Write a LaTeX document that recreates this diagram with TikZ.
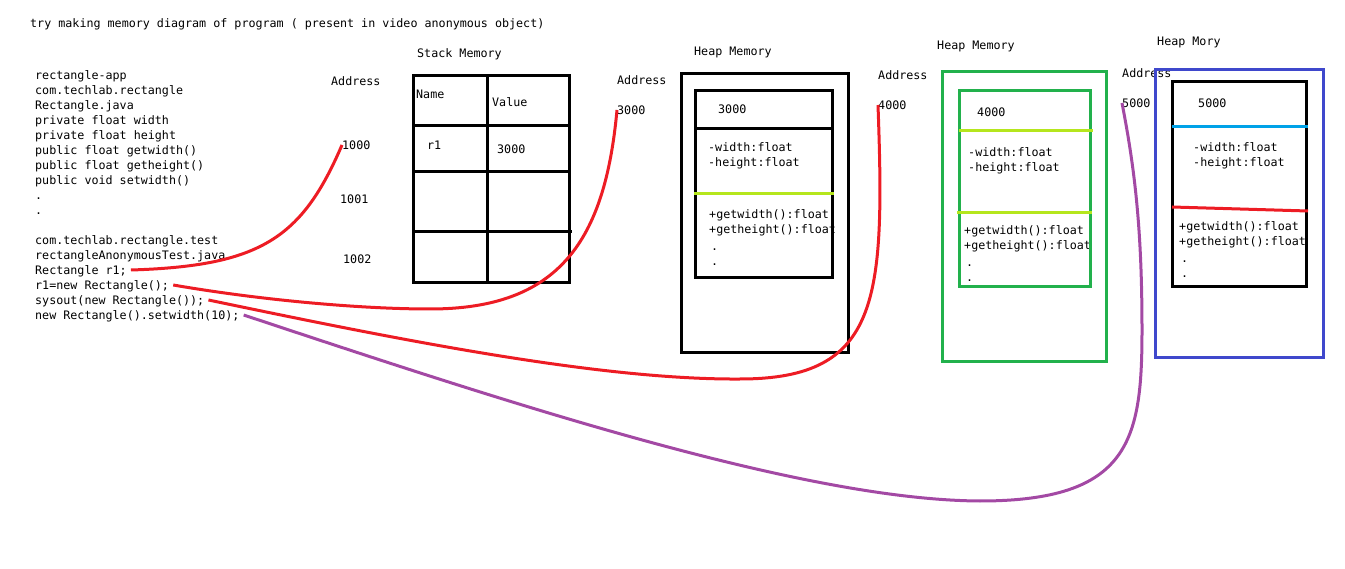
\documentclass[tikz,border=0pt]{standalone}
\usepackage{fontspec}
\setmonofont{DejaVu Sans Mono}
\usepackage{tikz}
\definecolor{pred}{HTML}{ED1C24}
\definecolor{ppurple}{HTML}{A349A4}
\definecolor{pgreen}{HTML}{22B14C}
\definecolor{pblue}{HTML}{3F48CC}
\definecolor{plime}{HTML}{B5E61D}
\definecolor{pcyan}{HTML}{00A2E8}

\begin{document}
\begin{tikzpicture}[x=1pt,y=-1pt,
    every node/.style={anchor=west,inner sep=0,text height=12pt,text depth=2pt,font=\ttfamily\fontsize{11.7}{14}\selectfont},
    box/.style={line width=3pt},
    wire/.style={line width=3pt,pred}]
  \useasboundingbox (0,0) rectangle (1345,569);
  \node (title) at (30,23) {try making memory diagram of program ( present in video anonymous object)};
  \foreach \t [count=\i] in {rectangle-app,com.techlab.rectangle,Rectangle.java,private float width,private float height,public float getwidth(),public float getheight(),public void setwidth(),.,.}
    \node (p\i) at (35,60+15*\i) {\t};
  \foreach \t [count=\i] in {com.techlab.rectangle.test,rectangleAnonymousTest.java,Rectangle r1;,r1=new Rectangle();,sysout(new Rectangle());,new Rectangle().setwidth(10);}
    \node (t\i) at (35,225+15*\i) {\t};

  \node (stk) at (417,53) {Stack Memory};
  \node (adr0) at (331,81) {Address};
  \node (a1000) at (342,145) {1000};
  \node (a1001) at (340,199) {1001};
  \node (a1002) at (343,259) {1002};
  \draw[box] (413,76) rectangle (569,283);
  \draw[box] (487,76) -- (487,283) (413,126) -- (569,126) (413,172) -- (569,172) (413,232) -- (572,232);
  \node (nm) at (416,94) {Name};
  \node (vl) at (492,102) {Value};
  \node (r1) at (427,145) {r1};
  \node (r1v) at (497,149) {3000};

  \node (hp1) at (694,51) {Heap Memory};
  \node (adr1) at (617,80) {Address};
  \node (h3000) at (617,110) {3000};
  \node (o3000) at (718,109) {3000};
  \node at (708,147) {-width:float};
  \node at (708,162) {-height:float};
  \node at (709,214) {+getwidth():float};
  \node at (709,229) {+getheight():float};
  \node at (711,246) {.};
  \node at (711,261) {.};
  \draw[box] (681,74) rectangle (848,353);
  \draw[box] (695,91) rectangle (832,278);
  \draw[box] (695,129) -- (832,129);
  \draw[box,plime] (694,194) -- (834,194);

  \node (hp2) at (937,45) {Heap Memory};
  \node (adr2) at (878,75) {Address};
  \node (h4000) at (878,105) {4000};
  \node (o4000) at (977,112) {4000};
  \node at (968,152) {-width:float};
  \node at (968,167) {-height:float};
  \node at (964,230) {+getwidth():float};
  \node at (964,245) {+getheight():float};
  \node at (966,262) {.};
  \node at (966,277) {.};
  \draw[box,pgreen] (942,72) rectangle (1106,362);
  \draw[box,pgreen] (959,91) rectangle (1090,287);
  \draw[box,plime] (959,131) -- (1093,131);
  \draw[box,plime] (957,213) -- (1092,213);

  \node (hp3) at (1157,41) {Heap Mory};
  \node (adr3) at (1122,73) {Address};
  \node (h5000) at (1122,103) {5000};
  \node (o5000) at (1198,103) {5000};
  \node at (1193,147) {-width:float};
  \node at (1193,162) {-height:float};
  \node at (1179,226) {+getwidth():float};
  \node at (1179,241) {+getheight():float};
  \node at (1181,258) {.};
  \node at (1181,273) {.};
  \draw[box,pblue] (1155,70) rectangle (1323,358);
  \draw[box] (1172,82) rectangle (1306,287);
  \draw[box,pcyan] (1172,127) -- (1308,127);
  \draw[box,pred] (1172,207) -- (1308,211);

  \draw[wire] ([xshift=4pt]t3.east) .. controls (261,266) and (302,238) .. (a1000.west);
  \draw[wire] ([xshift=4pt]t4.east) .. controls (260,300) and (360,309) .. (430,309) .. controls (560,309) and (605,240) .. (h3000.west);
  \draw[wire] ([xshift=4pt]t5.east) .. controls (400,340) and (600,380) .. (740,379) .. controls (880,379) and (885,300) .. (h4000.west);
  \draw[wire,ppurple] ([xshift=4pt]t6.east) .. controls (500,400) and (800,500) .. (980,501) .. controls (1130,501) and (1142,440) .. (1142,330) .. controls (1142,230) and (1135,170) .. (h5000.west);
\end{tikzpicture}
\end{document}
